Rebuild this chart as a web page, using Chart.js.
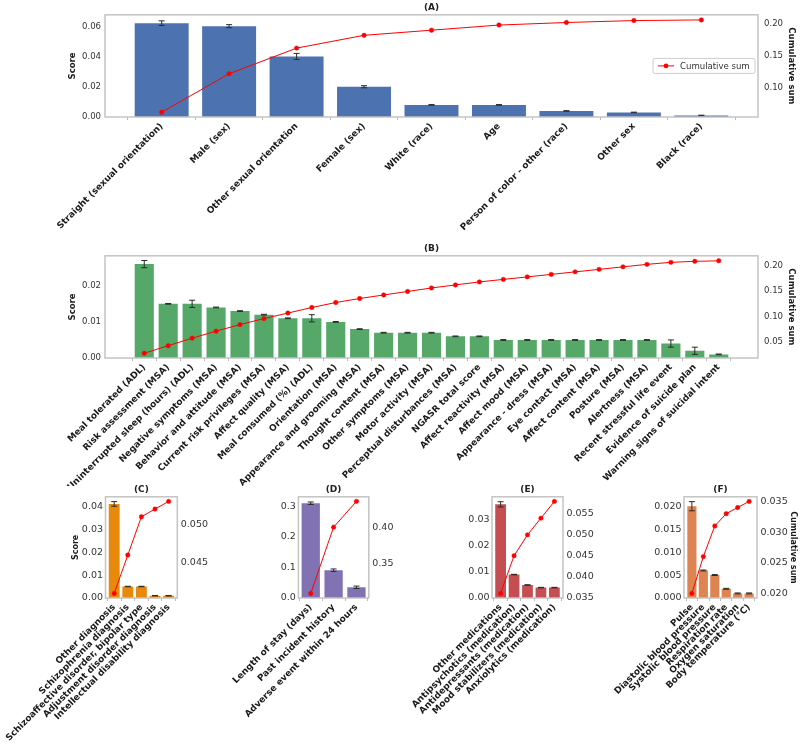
<!DOCTYPE html>
<html>
<head>
<meta charset="utf-8">
<script src="https://cdn.jsdelivr.net/npm/chart.js@4.4.0/dist/chart.umd.min.js"></script>
<style>
  body { margin: 0; background: #fff; }
  #wrap { position: relative; width: 800px; height: 744px; overflow: hidden; }
  canvas { position: absolute; }
</style>
</head>
<body>
<div id="wrap">
  <canvas id="chartA" width="800" height="240" style="left:0;top:0"></canvas>
  <canvas id="chartB" width="800" height="245" style="left:0;top:241px"></canvas>
  <canvas id="chartC" width="240" height="262" style="left:0;top:482px"></canvas>
  <canvas id="chartD" width="240" height="262" style="left:200px;top:482px"></canvas>
  <canvas id="chartE" width="230" height="262" style="left:390px;top:482px"></canvas>
  <canvas id="chartF" width="210" height="262" style="left:590px;top:482px"></canvas>
</div>
<script>
// (A) demographics
const labelsA = ['Straight (sexual orientation)', 'Male (sex)', 'Other sexual orientation', 'Female (sex)', 'White (race)', 'Age', 'Person of color - other (race)', 'Other sex', 'Black (race)'];
const scoreA = [0.062, 0.060, 0.040, 0.020, 0.008, 0.008, 0.004, 0.003, 0.001];
const errA = [0.0015, 0.001, 0.002, 0.0007, 0.0002, 0.0002, 0.0002, 0.0002, 0.0002];
const cumA = [0.062, 0.122, 0.162, 0.182, 0.190, 0.198, 0.202, 0.205, 0.206];

// (B) assessments
const labelsB = ['Meal tolerated (ADL)', 'Risk assessment (MSA)', 'Uninterrupted sleep (hours) (ADL)', 'Negative symptoms (MSA)', 'Behavior and attitude (MSA)', 'Current risk privileges (MSA)', 'Affect quality (MSA)', 'Meal consumed (%) (ADL)', 'Orientation (MSA)', 'Appearance and grooming (MSA)', 'Thought content (MSA)', 'Other symptoms (MSA)', 'Motor activity (MSA)', 'Perceptual disturbances (MSA)', 'NGASR total score', 'Affect reactivity (MSA)', 'Affect mood (MSA)', 'Appearance - dress (MSA)', 'Eye contact (MSA)', 'Affect content (MSA)', 'Posture (MSA)', 'Alertness (MSA)', 'Recent stressful life event', 'Evidence of suicide plan', 'Warning signs of suicidal intent'];
const scoreB = [0.026, 0.015, 0.015, 0.014, 0.013, 0.012, 0.011, 0.011, 0.010, 0.008, 0.007, 0.007, 0.007, 0.006, 0.006, 0.005, 0.005, 0.005, 0.005, 0.005, 0.005, 0.005, 0.004, 0.002, 0.001];
const errB = [0.001, 0.0001, 0.001, 0.0001, 0.0001, 0.0001, 0.0001, 0.001, 0.0001, 0.0001, 0.0001, 0.0001, 0.0001, 0.0001, 0.0001, 0.0001, 0.0001, 0.0001, 0.0001, 0.0001, 0.0001, 0.0001, 0.001, 0.001, 0.0001];
const cumB = [0.026, 0.041, 0.056, 0.070, 0.083, 0.095, 0.106, 0.117, 0.127, 0.135, 0.142, 0.149, 0.156, 0.162, 0.168, 0.173, 0.178, 0.183, 0.188, 0.193, 0.198, 0.203, 0.207, 0.209, 0.210];

// (C) diagnoses
const labelsC = ['Other diagnosis', 'Schizophrenia diagnosis', 'Schizoaffective disorder, bipolar type', 'Adjustment disorder diagnosis', 'Intellectual disability diagnosis'];
const scoreC = [0.041, 0.005, 0.005, 0.001, 0.001];
const errC = [0.001, 0.0001, 0.0001, 0.0001, 0.0001];
const cumC = [0.041, 0.046, 0.051, 0.052, 0.053];

// (D) history
const labelsD = ['Length of stay (days)', 'Past incident history', 'Adverse event within 24 hours'];
const scoreD = [0.310, 0.091, 0.035];
const errD = [0.004, 0.004, 0.004];
const cumD = [0.310, 0.400, 0.435];

// (E) medications
const labelsE = ['Other medications', 'Antipsychotics (medication)', 'Antidepressants (medication)', 'Mood stabilizers (medication)', 'Anxiolytics (medication)'];
const scoreE = [0.036, 0.009, 0.005, 0.004, 0.004];
const errE = [0.001, 0.0001, 0.0001, 0.0001, 0.0001];
const cumE = [0.036, 0.045, 0.050, 0.054, 0.058];

// (F) vitals
const labelsF = ['Pulse', 'Diastolic blood pressure', 'Systolic blood pressure', 'Respiration rate', 'Oxygen saturation', 'Body temperature (°C)'];
const scoreF = [0.020, 0.006, 0.005, 0.002, 0.001, 0.001];
const errF = [0.001, 0.0001, 0.0001, 0.0001, 0.0001, 0.0001];
const cumF = [0.020, 0.026, 0.031, 0.033, 0.034, 0.035];

const FONT = "'DejaVu Sans', sans-serif";
const NARROW = "'DejaVu Sans Condensed', 'Liberation Sans Narrow', 'DejaVu Sans', sans-serif";

// box round each plot
const frame = {
    id: 'frame',
    afterDatasetsDraw(chart) {
        const a = chart.chartArea, ctx = chart.ctx;
        ctx.save();
        ctx.strokeStyle = '#c4c4c4';
        ctx.lineWidth = 1.5;
        ctx.strokeRect(a.left, a.top, a.right - a.left, a.bottom - a.top);
        ctx.restore();
    }
};

// error bars on the score bars
const errorBars = {
    id: 'errorBars',
    afterDatasetDraw(chart, args) {
        if (args.index !== 1) return;
        const ds = chart.data.datasets[1];
        const xs = chart.scales.x, ys = chart.scales.y, ctx = chart.ctx;
        ctx.save();
        ctx.strokeStyle = '#2a2a2a';
        ctx.lineWidth = 1;
        ds.err.forEach((e, i) => {
            const x = xs.getPixelForValue(i);
            const lo = ys.getPixelForValue(ds.data[i].y - e);
            const hi = ys.getPixelForValue(ds.data[i].y + e);
            ctx.beginPath();
            ctx.moveTo(x, lo); ctx.lineTo(x, hi);
            ctx.moveTo(x - 3, lo); ctx.lineTo(x + 3, lo);
            ctx.moveTo(x - 3, hi); ctx.lineTo(x + 3, hi);
            ctx.stroke();
        });
        ctx.restore();
    }
};

// legend inside panel A, centre right
const legendBox = {
    id: 'legendBox',
    afterDraw(chart) {
        const a = chart.chartArea, ctx = chart.ctx;
        const w = 102, h = 15;
        const x = a.right - w - 3, y = (a.top + a.bottom) / 2 - h / 2;
        ctx.save();
        ctx.fillStyle = 'rgba(255,255,255,0.85)';
        ctx.strokeStyle = '#cccccc';
        ctx.lineWidth = 1;
        ctx.beginPath();
        ctx.roundRect(x, y, w, h, 2);
        ctx.fill();
        ctx.stroke();
        ctx.strokeStyle = '#ff0000';
        ctx.beginPath();
        ctx.moveTo(x + 5, y + h / 2); ctx.lineTo(x + 21, y + h / 2);
        ctx.stroke();
        ctx.fillStyle = '#ff0000';
        ctx.beginPath();
        ctx.arc(x + 13, y + h / 2, 2.3, 0, Math.PI * 2);
        ctx.fill();
        ctx.fillStyle = '#333';
        ctx.font = '9.5px ' + NARROW;
        ctx.textBaseline = 'middle';
        ctx.fillText(chart.data.datasets[0].label, x + 27, y + h / 2 + 0.5);
        ctx.restore();
    }
};

function panel(id, p) {
    const tickFont = { family: p.big ? NARROW : FONT, size: 9.5 };
    const titleSize = p.big ? 8.5 : 8;
    const plugins = [frame, errorBars];
    if (p.legend) plugins.push(legendBox);
    return new Chart(document.getElementById(id), {
        type: 'bar',
        data: {
            datasets: [
                {
                    type: 'line',
                    label: 'Cumulative sum',
                    data: p.cum.map((v, i) => ({ x: i, y: v })),
                    yAxisID: 'y2',
                    borderColor: '#ff0000',
                    backgroundColor: '#ff0000',
                    borderWidth: 1,
                    pointRadius: 2.2,
                    pointBorderWidth: 0.5,
                    order: 0
                },
                {
                    type: 'bar',
                    label: 'Score',
                    data: p.score.map((v, i) => ({ x: i, y: v })),
                    err: p.err,
                    yAxisID: 'y',
                    backgroundColor: p.color,
                    barPercentage: 0.8,
                    categoryPercentage: 1,
                    order: 1
                }
            ]
        },
        options: {
            responsive: false,
            animation: false,
            events: [],
            layout: { padding: { left: p.padL || 0, right: p.padR || 0, top: 0, bottom: 0 } },
            plugins: {
                legend: { display: false },
                tooltip: { enabled: false },
                title: {
                    display: true, text: p.title, fullSize: false, color: '#222',
                    font: { family: FONT, size: 9, weight: 'bold' },
                    padding: { top: 2, bottom: 2 }
                }
            },
            scales: {
                x: {
                    type: 'linear', min: p.xmin, max: p.xmax, offset: false,
                    afterBuildTicks: s => { s.ticks = p.labels.map((_, i) => ({ value: i })); },
                    afterFit: s => { s.height = p.xh; },
                    ticks: {
                        autoSkip: false, minRotation: 45, maxRotation: 45, padding: 1,
                        callback: v => p.labels[v], color: '#1a1a1a',
                        font: { family: FONT, size: 9, weight: 'bold' }
                    },
                    grid: { drawOnChartArea: false, tickLength: 3, color: '#bbbbbb' },
                    border: { display: false }
                },
                y: {
                    position: 'left', min: 0, max: p.ymax,
                    afterFit: s => { s.width = p.wl; },
                    ticks: { stepSize: p.ystep, includeBounds: false, padding: p.big ? 4 : 2.5, color: '#333', font: tickFont, callback: v => v.toFixed(p.ydec) },
                    grid: { display: false, drawTicks: false },
                    border: { display: false },
                    title: { display: !!p.ytitle, text: p.ytitle, color: '#1a1a1a', padding: 0, font: { family: FONT, size: titleSize, weight: 'bold' } }
                },
                y2: {
                    position: 'right', min: p.y2min, max: p.y2max,
                    afterFit: s => { s.width = p.wr; },
                    ticks: { stepSize: p.y2step, includeBounds: false, padding: p.big ? 6 : 3.5, color: '#333', font: tickFont, callback: v => v.toFixed(p.y2dec) },
                    grid: { display: false, drawTicks: false },
                    border: { display: false },
                    title: { display: !!p.y2title, text: p.y2title, color: '#1a1a1a', padding: 0, font: { family: FONT, size: titleSize, weight: 'bold' } }
                }
            }
        },
        plugins: plugins
    });
}

panel('chartA', {
    title: '(A)', labels: labelsA, score: scoreA, err: errA, cum: cumA, color: '#4c72b0', big: true, legend: true,
    xmin: -0.84, xmax: 8.84, xh: 123, padL: 68, wl: 37, padR: 4, wr: 38,
    ymax: 0.0675, ystep: 0.02, ydec: 2, y2min: 0.0545, y2max: 0.214, y2step: 0.05, y2dec: 2,
    ytitle: 'Score', y2title: 'Cumulative sum'
});

panel('chartB', {
    title: '(B)', labels: labelsB, score: scoreB, err: errB, cum: cumB, color: '#55a868', big: true,
    xmin: -1.64, xmax: 25.64, xh: 128, padL: 68, wl: 37, padR: 4, wr: 38,
    ymax: 0.0283, ystep: 0.01, ydec: 2, y2min: 0.0165, y2max: 0.220, y2step: 0.05, y2dec: 2,
    ytitle: 'Score', y2title: 'Cumulative sum'
});

panel('chartC', {
    title: '(C)', labels: labelsC, score: scoreC, err: errC, cum: cumC, color: '#e8890c',
    xmin: -0.64, xmax: 4.64, xh: 146, padL: 71, wl: 34.5, padR: 0, wr: 62.7,
    ymax: 0.0441, ystep: 0.01, ydec: 2, y2min: 0.0404, y2max: 0.0536, y2step: 0.005, y2dec: 3,
    ytitle: 'Score'
});

panel('chartD', {
    title: '(D)', labels: labelsD, score: scoreD, err: errD, cum: cumD, color: '#8172b3',
    xmin: -0.54, xmax: 2.54, xh: 146, padL: 0, wl: 98.4, padR: 0, wr: 71.2,
    ymax: 0.331, ystep: 0.1, ydec: 1, y2min: 0.3038, y2max: 0.4412, y2step: 0.05, y2dec: 2
});

panel('chartE', {
    title: '(E)', labels: labelsE, score: scoreE, err: errE, cum: cumE, color: '#c44e52',
    xmin: -0.64, xmax: 4.64, xh: 146, padL: 0, wl: 102, padR: 0, wr: 57,
    ymax: 0.0389, ystep: 0.01, ydec: 2, y2min: 0.0349, y2max: 0.0591, y2step: 0.005, y2dec: 3
});

panel('chartF', {
    title: '(F)', labels: labelsF, score: scoreF, err: errF, cum: cumF, color: '#dd8452',
    xmin: -0.69, xmax: 5.69, xh: 146, padL: 0, wl: 94, padR: 2, wr: 41,
    ymax: 0.02205, ystep: 0.005, ydec: 3, y2min: 0.01925, y2max: 0.03575, y2step: 0.005, y2dec: 3,
    y2title: 'Cumulative sum'
});
</script>
</body>
</html>
